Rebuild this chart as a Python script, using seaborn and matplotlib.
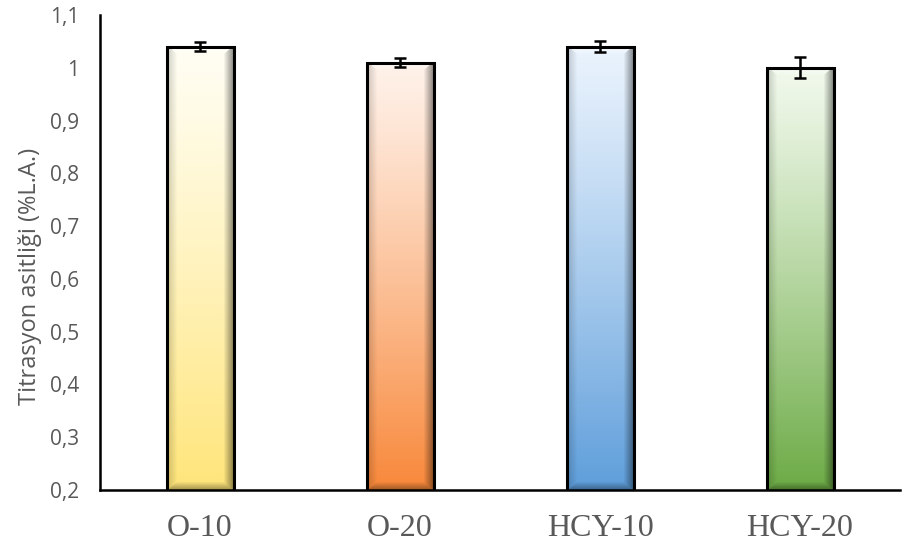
import numpy as np
import pandas as pd
import matplotlib
matplotlib.use("Agg")
import matplotlib.pyplot as plt
import seaborn as sns
from matplotlib.colors import to_rgb

categories = ["O-10", "O-20", "HCY-10", "HCY-20"]
values = [1.04, 1.01, 1.04, 1.00]
errors = [0.009, 0.009, 0.010, 0.020]
bottom_colors = ["#FFE57A", "#F8883A", "#5E9EDB", "#6CAB45"]
top_colors = ["#FFFEF4", "#FFF2EA", "#EAF3FD", "#F1F9EC"]
yticks = [0.2, 0.3, 0.4, 0.5, 0.6, 0.7, 0.8, 0.9, 1.0, 1.1]
ytick_labels = ["0,2", "0,3", "0,4", "0,5", "0,6", "0,7", "0,8", "0,9", "1", "1,1"]
ylabel = "Titrasyon asitliği (%L.A.)"

sns.set_style("white")
plt.rcParams["font.family"] = ["Open Sans", "DejaVu Sans"]

df = pd.DataFrame({"cat": categories, "val": values})
fig = plt.figure(figsize=(9.02, 5.5), dpi=100)
ax = fig.add_axes([100 / 902, 1 - 490 / 550, 800 / 902, 475 / 550])
sns.barplot(data=df, x="cat", y="val", hue="cat", palette=bottom_colors,
            width=0.335, ax=ax, legend=False, errorbar=None)
ax.set_ylim(0.2, 1.1)
ax.set_xlim(-0.5, 3.5)


def bar_image(top, bot, wpx, hpx, b=10.0):
    top = np.array(to_rgb(top)); bot = np.array(to_rgb(bot))
    H, W = int(hpx), int(wpx)
    v = np.arange(H)[:, None] * np.ones((1, W))
    u = np.ones((H, 1)) * np.arange(W)[None, :]
    t = (v / (H - 1))
    t = np.clip(t, 0, 1) ** 1.15
    img = top[None, None, :] * (1 - t[..., None]) + bot[None, None, :] * t[..., None]
    dl, dr, dt, db = u, W - 1 - u, v, H - 1 - v
    d = np.stack([dl, dr, dt, db])
    idx = np.argmin(d, axis=0)
    dm = np.min(d, axis=0)
    s = np.clip(1 - dm / b, 0, 1)
    out = img.copy()
    m = (idx == 0)
    out[m] = img[m] * (1 - 0.18 * s[m])[:, None]
    m = (idx == 1)
    out[m] = img[m] * (1 - 0.45 * s[m])[:, None]
    m = (idx == 2)
    out[m] = img[m] * (1 - 0.6 * s[m])[:, None] + 0.6 * s[m][:, None]
    m = (idx == 3)
    out[m] = img[m] * (1 - 0.35 * s[m])[:, None]
    return np.clip(out, 0, 1)


fig.canvas.draw()
for i, p in enumerate(ax.patches):
    x0, y0 = p.get_x(), p.get_y()
    w, h = p.get_width(), p.get_height()
    bb = p.get_window_extent()
    img = bar_image(top_colors[i], bottom_colors[i], bb.width, bb.height)
    im = ax.imshow(img, extent=[x0, x0 + w, 0.2, y0 + h], aspect="auto",
                   origin="upper", zorder=2, interpolation="bilinear")
    im.set_clip_path(p)
    p.set_facecolor("none")
    p.set_edgecolor("black")
    p.set_linewidth(2.2)
    p.set_zorder(3)

ax.errorbar(np.arange(len(categories)), values, yerr=errors, fmt="none",
            ecolor="black", elinewidth=1.8, capsize=4.5, capthick=1.8, zorder=4)

ax.set_yticks(yticks)
ax.set_yticklabels(ytick_labels)
ax.tick_params(axis="y", length=0, pad=15, labelsize=15, labelcolor="#595959")
ax.tick_params(axis="x", length=0, pad=17, labelcolor="#595959")
for lab in ax.get_xticklabels():
    lab.set_fontfamily("Liberation Serif")
    lab.set_fontsize(23)
ax.set_xlabel("")
ax.set_ylabel(ylabel, fontsize=17, color="#595959")
ax.yaxis.set_label_coords(-0.073, 0.45)
for s in ["top", "right"]:
    ax.spines[s].set_visible(False)
for s in ["left", "bottom"]:
    ax.spines[s].set_color("black")
    ax.spines[s].set_linewidth(1.8)
ax.grid(False)

fig.savefig("out.png", dpi=100)
